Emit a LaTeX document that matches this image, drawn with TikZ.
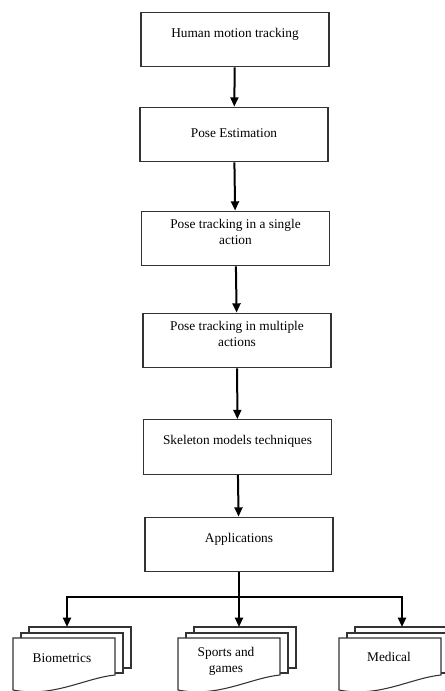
\documentclass[tikz,border=0pt]{standalone}
\usepackage{fontspec}
\setmainfont{Liberation Serif}
\usetikzlibrary{arrows.meta}
\tikzset{
    stage/.style={draw=black!80, line width=0.8pt, minimum width=141pt, minimum height=41pt, align=center, inner sep=2pt, text depth=10pt},
    flow/.style={line width=1.5pt, -{Triangle[length=7pt,width=6pt]}},
    sheet/.style={draw=black!80, line width=0.8pt, fill=white},
    docstack/.pic={
        \draw[sheet] (16,-11) rectangle (118,30);
        \draw[sheet] (8,-5) rectangle (110,35);
        \draw[sheet] (0,0) -- (102,0) -- (102,37) .. controls (72,40) and (40,60) .. (0,52) -- cycle;
    },
}
\begin{document}
\begin{tikzpicture}[x=0.75pt, y=-0.75pt]
    \useasboundingbox (0,0) rectangle (445,691);
    \clip (0,0) rectangle (445,691);
    \node[stage] (hmt) at (235,39.5) {Human motion tracking};
    \node[stage, text depth=2pt] (pose) at (234,134.5) {Pose Estimation};
    \node[stage] (single) at (235.5,238.5) {Pose tracking in a single\\action};
    \node[stage] (multi) at (237,340.5) {Pose tracking in multiple\\actions};
    \node[stage] (skel) at (237.5,447) {Skeleton models techniques};
    \node[stage] (apps) at (239,544.5) {Applications};
    \draw[flow] (hmt) -- (pose);
    \draw[flow] (pose) -- (single);
    \draw[flow] (single) -- (multi);
    \draw[flow] (multi) -- (skel);
    \draw[flow] (skel) -- (apps);
    % document stacks
    \pic at (13,638) {docstack};
    \pic at (178,638) {docstack};
    \pic at (339,638) {docstack};
    \node (bio) at (62,658) {Biometrics};
    \node[align=center] (sports) at (226,661) {Sports and\\games};
    \node (med) at (389,657) {Medical};
    \coordinate (fork) at (239,597);
    \coordinate (bio in) at (67,627);
    \coordinate (sports in) at (239,627);
    \coordinate (med in) at (402,627);
    \draw[flow] (apps) -- (sports in);
    \draw[flow] (fork) -| (bio in);
    \draw[flow] (fork) -| (med in);
\end{tikzpicture}
\end{document}
